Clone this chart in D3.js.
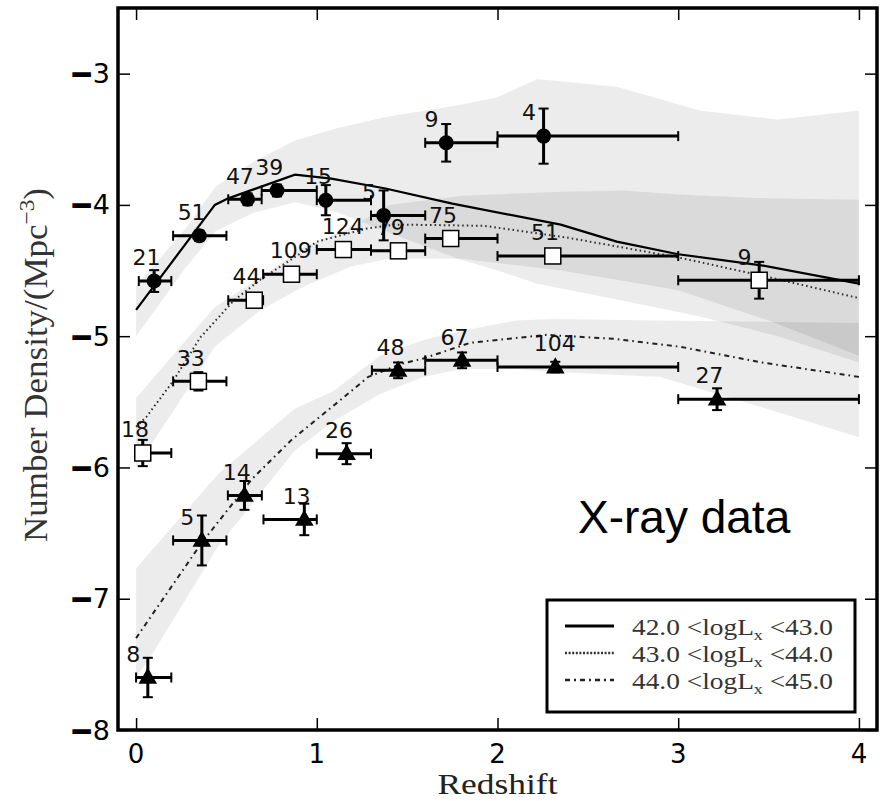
<!DOCTYPE html>
<html>
<head>
<meta charset="utf-8">
<script src="https://cdn.jsdelivr.net/npm/d3@7"></script>
<style>
  html, body { margin: 0; padding: 0; background: #fff; }
  svg { display: block; }
</style>
</head>
<body>
<script>
// ---------- Data ----------
// Series 1: 42.0 < logLx < 43.0 (filled circles)
const s1Z    = [0.10, 0.35, 0.617, 0.78, 1.05, 1.37, 1.716, 2.255];
const s1Zlo  = [0.015, 0.205, 0.51, 0.695, 1.0, 1.30, 1.60, 2.0];
const s1Zhi  = [0.195, 0.50, 0.695, 1.0, 1.30, 1.60, 2.0, 3.0];
const s1Phi  = [-4.58, -4.235, -3.957, -3.89, -3.964, -4.08, -3.527, -3.476];
const s1Err  = [0.083, 0.04, 0.045, 0.045, 0.115, 0.19, 0.143, 0.21];
const s1N    = ["21", "51", "47", "39", "15", "5", "9", "4"];

// Series 2: 43.0 < logLx < 44.0 (open squares)
const s2Z    = [0.037, 0.345, 0.654, 0.86, 1.147, 1.452, 1.741, 2.306, 3.448];
const s2Zlo  = [0.0, 0.205, 0.51, 0.703, 1.0, 1.30, 1.60, 2.0, 3.0];
const s2Zhi  = [0.195, 0.50, 0.703, 1.0, 1.30, 1.60, 2.0, 3.0, 4.0];
const s2Phi  = [-5.89, -5.344, -4.726, -4.528, -4.34, -4.35, -4.256, -4.389, -4.574];
const s2Err  = [0.1, 0.07, 0.04, 0.03, 0.03, 0.03, 0.03, 0.03, 0.14];
const s2N    = ["18", "33", "44", "109", "124", "79", "75", "51", "9"];

// Series 3: 44.0 < logLx < 45.0 (filled triangles)
const s3Z    = [0.065, 0.364, 0.60, 0.931, 1.165, 1.45, 1.804, 2.32, 3.215];
const s3Zlo  = [0.0, 0.205, 0.508, 0.705, 1.0, 1.305, 1.60, 2.0, 3.0];
const s3Zhi  = [0.195, 0.50, 0.696, 1.0, 1.30, 1.60, 2.0, 3.0, 4.0];
const s3Phi  = [-7.6, -6.556, -6.213, -6.396, -5.895, -5.26, -5.184, -5.235, -5.48];
const s3Err  = [0.15, 0.19, 0.11, 0.12, 0.08, 0.06, 0.06, 0.04, 0.083];
const s3N    = ["8", "5", "14", "13", "26", "48", "67", "104", "27"];

// Model curves
const m1Z = [0, 0.436, 0.51, 0.879, 1.08, 1.38, 1.75, 2.35, 2.66, 3.0, 3.46, 4.0];
const m1Y = [-4.8, -4.0, -3.95, -3.77, -3.8, -3.875, -3.99, -4.15, -4.28, -4.376, -4.46, -4.6];
const m2Z = [0, 0.057, 0.133, 0.206, 0.355, 0.54, 0.687, 0.909, 1.0, 1.277, 1.43, 1.74, 1.93, 2.39, 3.0, 3.5, 4.0];
const m2Y = [-5.69, -5.615, -5.475, -5.34, -5.01, -4.73, -4.57, -4.37, -4.28, -4.18, -4.15, -4.155, -4.16, -4.25, -4.40, -4.55, -4.71];
const m3Z = [0, 0.36, 0.64, 0.86, 1.11, 1.285, 1.47, 1.59, 1.85, 2.27, 2.64, 3.01, 3.46, 4.0];
const m3Y = [-7.3, -6.58, -6.09, -5.79, -5.51, -5.31, -5.21, -5.17, -5.05, -4.99, -5.02, -5.08, -5.2, -5.31];

// Uncertainty bands
const b1Z  = [0, 0.28, 0.44, 0.65, 0.88, 1.1, 1.38, 1.78, 2.0, 2.22, 2.66, 3.12, 3.55, 4.0];
const b1Hi = [-4.62, -4.17, -3.86, -3.67, -3.51, -3.42, -3.33, -3.24, -3.18, -3.04, -3.10, -3.28, -3.35, -3.28];
const b1Lo = [-5.0, -4.47, -4.2, -4.06, -3.98, -4.05, -4.2, -4.41, -4.5, -4.6, -4.72, -4.85, -5.0, -5.2];
const b2Z  = [0, 0.244, 0.435, 0.69, 0.93, 1.19, 1.4, 1.8, 2.35, 2.7, 3.0, 3.5, 4.0];
const b2Hi = [-5.47, -5.08, -4.78, -4.55, -4.32, -4.17, -4.0, -3.93, -3.9, -3.89, -3.92, -3.95, -3.96];
const b2Lo = [-6.0, -5.49, -5.08, -4.8, -4.62, -4.47, -4.41, -4.41, -4.5, -4.58, -4.65, -4.88, -5.15];
const b3Z  = [0, 0.1, 0.454, 0.879, 1.09, 1.35, 1.59, 1.8, 2.1, 2.3, 2.9, 3.46, 4.0];
const b3Hi = [-6.77, -6.61, -6.05, -5.55, -5.42, -5.15, -5.03, -4.96, -4.88, -4.87, -4.88, -4.89, -4.9];
const b3Lo = [-7.6, -7.4, -6.6, -5.87, -5.65, -5.44, -5.31, -5.25, -5.25, -5.27, -5.31, -5.54, -5.77];

const xTicks = [0, 1, 2, 3, 4];
const yTicks = [-8, -7, -6, -5, -4, -3];
const legendLabels = [["42.0 <logL", "x", " <43.0"], ["43.0 <logL", "x", " <44.0"], ["44.0 <logL", "x", " <45.0"]];
const xLabel = "Redshift";
const yLabelMain = "Number Density/(Mpc";
const yLabelSup = "\u22123";
const annotation = "X-ray data";

// ---------- Layout ----------
const W = 884, H = 801;
const L = 118, R = 877, T = 8, B = 730;

const svg = d3.select("body").append("svg").attr("width", W).attr("height", H);

const x = d3.scaleLinear().domain([-0.1, 4.1]).range([L, R]);
const y = d3.scaleLinear().domain([-8, -2.5]).range([B, T]);

svg.append("clipPath").attr("id", "clip")
  .append("rect").attr("x", L).attr("y", T).attr("width", R - L).attr("height", B - T);

const plot = svg.append("g").attr("clip-path", "url(#clip)");

// Bands
function band(zs, hi, lo) {
  const pts = zs.map((z, i) => ({ z, hi: hi[i], lo: lo[i] }));
  return d3.area().x(d => x(d.z)).y0(d => y(d.lo)).y1(d => y(d.hi))(pts);
}
[[b1Z, b1Hi, b1Lo], [b2Z, b2Hi, b2Lo], [b3Z, b3Hi, b3Lo]].forEach(([zs, hi, lo]) => {
  plot.append("path").attr("d", band(zs, hi, lo))
    .attr("fill", "#000").attr("fill-opacity", 0.075);
});

// Model curves
const lineGen = d3.line().x(d => x(d[0])).y(d => y(d[1]));
const styles = [
  { dash: null, color: "#000", w: 2.2 },
  { dash: "1.6,3", color: "#333", w: 2 },
  { dash: "5,4,1.6,4", color: "#222", w: 2 }
];
[[m1Z, m1Y], [m2Z, m2Y], [m3Z, m3Y]].forEach(([zs, ys], i) => {
  const p = plot.append("path").attr("d", lineGen(zs.map((z, j) => [z, ys[j]])))
    .attr("fill", "none").attr("stroke", styles[i].color).attr("stroke-width", styles[i].w);
  if (styles[i].dash) p.attr("stroke-dasharray", styles[i].dash);
});

// Count labels
function labels(zs, phis, ns) {
  plot.append("g").selectAll("text").data(zs).join("text")
    .attr("x", (d, i) => x(zs[i] - 0.12))
    .attr("y", (d, i) => y(phis[i] + 0.12))
    .attr("font-family", "DejaVu Sans")
    .attr("font-size", 22)
    .attr("fill", "#111")
    .text((d, i) => ns[i]);
}
labels(s1Z, s1Phi, s1N);
labels(s2Z, s2Phi, s2N);
labels(s3Z, s3Phi, s3N);

// Error bars
function errorbars(zs, zlo, zhi, phis, errs) {
  const g = plot.append("g").attr("stroke", "#000").attr("fill", "none");
  zs.forEach((z, i) => {
    const yy = y(phis[i]);
    g.append("line").attr("x1", x(zlo[i])).attr("x2", x(zhi[i])).attr("y1", yy).attr("y2", yy).attr("stroke-width", 3);
    g.append("line").attr("x1", x(z)).attr("x2", x(z)).attr("y1", y(phis[i] + errs[i])).attr("y2", y(phis[i] - errs[i])).attr("stroke-width", 3);
    [zlo[i], zhi[i]].forEach(e => {
      g.append("line").attr("x1", x(e)).attr("x2", x(e)).attr("y1", yy - 5).attr("y2", yy + 5).attr("stroke-width", 2);
    });
    [phis[i] + errs[i], phis[i] - errs[i]].forEach(e => {
      g.append("line").attr("x1", x(z) - 5).attr("x2", x(z) + 5).attr("y1", y(e)).attr("y2", y(e)).attr("stroke-width", 2);
    });
  });
}
errorbars(s1Z, s1Zlo, s1Zhi, s1Phi, s1Err);
errorbars(s2Z, s2Zlo, s2Zhi, s2Phi, s2Err);
errorbars(s3Z, s3Zlo, s3Zhi, s3Phi, s3Err);

// Markers
plot.append("g").selectAll("circle").data(s1Z).join("circle")
  .attr("cx", (d, i) => x(s1Z[i])).attr("cy", (d, i) => y(s1Phi[i]))
  .attr("r", 7.5).attr("fill", "#000");
plot.append("g").selectAll("rect").data(s2Z).join("rect")
  .attr("x", (d, i) => x(s2Z[i]) - 8).attr("y", (d, i) => y(s2Phi[i]) - 8)
  .attr("width", 16).attr("height", 16)
  .attr("fill", "#fff").attr("stroke", "#000").attr("stroke-width", 1.5);
const tri = d3.symbol().type(d3.symbolTriangle).size(150);
plot.append("g").selectAll("path").data(s3Z).join("path")
  .attr("d", tri)
  .attr("transform", (d, i) => `translate(${x(s3Z[i])},${y(s3Phi[i]) + 1})`)
  .attr("fill", "#000");

// Axes frame & ticks
const ax = svg.append("g");
ax.append("rect").attr("x", L).attr("y", T).attr("width", R - L).attr("height", B - T)
  .attr("fill", "none").attr("stroke", "#000").attr("stroke-width", 3.5);

const xAxisB = d3.axisBottom(x).tickValues(xTicks).tickSize(-12).tickFormat("");
const xAxisT = d3.axisTop(x).tickValues(xTicks).tickSize(-12).tickFormat("");
const yAxisL = d3.axisLeft(y).tickValues(yTicks).tickSize(-12).tickFormat("");
const yAxisR = d3.axisRight(y).tickValues(yTicks).tickSize(-12).tickFormat("");
[[xAxisB, `translate(0,${B})`], [xAxisT, `translate(0,${T})`], [yAxisL, `translate(${L},0)`], [yAxisR, `translate(${R},0)`]]
  .forEach(([a, tr]) => {
    const g = ax.append("g").attr("transform", tr).call(a);
    g.select(".domain").remove();
    g.selectAll(".tick line").attr("stroke", "#000").attr("stroke-width", 1.5);
  });

// Tick labels
ax.append("g").selectAll("text").data(xTicks).join("text")
  .attr("x", d => x(d)).attr("y", B + 33)
  .attr("text-anchor", "middle").attr("font-family", "DejaVu Sans").attr("font-size", 26)
  .attr("fill", "#000").text(d => d);
const yt = ax.append("g").selectAll("text").data(yTicks).join("text")
  .attr("x", L - 8).attr("y", d => y(d) + 9.5)
  .attr("text-anchor", "end").attr("font-family", "DejaVu Sans").attr("font-size", 27)
  .attr("fill", "#000");
yt.append("tspan").attr("font-weight", "bold").attr("stroke", "#000").attr("stroke-width", 1.6).text("\u2212");
yt.append("tspan").text(d => Math.abs(d));

// Axis titles
svg.append("text").attr("x", (L + R) / 2).attr("y", 794)
  .attr("text-anchor", "middle").attr("font-family", "Liberation Serif").attr("font-size", 30)
  .attr("fill", "#222").attr("textLength", 120).attr("lengthAdjust", "spacingAndGlyphs")
  .text(xLabel);

const yl = svg.append("text")
  .attr("transform", "translate(47,365) rotate(-90)")
  .attr("text-anchor", "middle").attr("font-family", "Liberation Serif").attr("font-size", 33)
  .attr("fill", "#333").attr("textLength", 354).attr("lengthAdjust", "spacingAndGlyphs");
yl.append("tspan").text(yLabelMain);
yl.append("tspan").attr("dy", -13).attr("font-size", 22).text(yLabelSup);
yl.append("tspan").attr("dy", 13).text(")");

// Annotation
svg.append("text").attr("x", 578).attr("y", 533)
  .attr("font-family", "Liberation Sans").attr("font-size", 46).attr("fill", "#000")
  .text(annotation);

// Legend
const lg = svg.append("g");
lg.append("rect").attr("x", 547).attr("y", 600).attr("width", 308).attr("height", 112)
  .attr("fill", "#fff").attr("stroke", "#000").attr("stroke-width", 3);
legendLabels.forEach((lab, i) => {
  const ly = 626 + i * 27;
  const ln = lg.append("line").attr("x1", 565).attr("x2", 614).attr("y1", ly).attr("y2", ly)
    .attr("stroke", styles[i].color).attr("stroke-width", i === 0 ? 3 : 2.5);
  if (styles[i].dash) ln.attr("stroke-dasharray", i === 1 ? "2,1.6" : "5,4,2,4");
  const t = lg.append("text").attr("x", 632).attr("y", ly + 9)
    .attr("font-family", "Liberation Serif").attr("font-size", 23).attr("fill", "#333")
    .attr("textLength", 201).attr("lengthAdjust", "spacingAndGlyphs");
  t.append("tspan").text(lab[0]);
  t.append("tspan").attr("dy", 5).attr("font-size", 15).text(lab[1]);
  t.append("tspan").attr("dy", -5).text(lab[2]);
});
</script>
</body>
</html>
